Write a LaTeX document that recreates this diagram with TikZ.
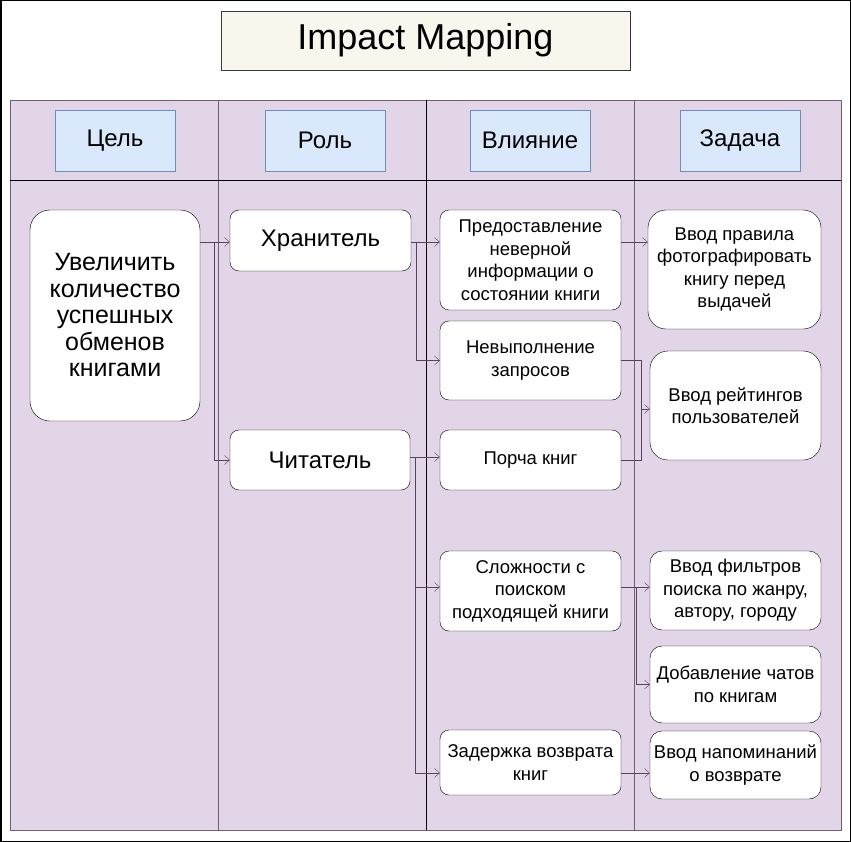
\documentclass[tikz,border=0pt]{standalone}
\usepackage{fontspec}
\setmainfont{Liberation Sans}
\usetikzlibrary{arrows.meta}
\definecolor{MapLane}{HTML}{E1D5E7}
\definecolor{MapLaneLine}{RGB}{112,96,118}
\definecolor{MapHeadBg}{HTML}{DAE8FC}
\definecolor{MapHeadLine}{HTML}{6C8EBF}
\definecolor{MapTitleBg}{HTML}{F9F7ED}
\definecolor{MapTitleLine}{RGB}{54,57,61}
\definecolor{MapLink}{RGB}{88,66,98}

\begin{document}
\begin{tikzpicture}[
x=1pt,y=-1pt,
title/.style={
draw=MapTitleLine,
fill=MapTitleBg,
minimum width=409pt,
minimum height=59pt,
font=\fontsize{36}{40}\selectfont
},
head/.style={
draw=MapHeadLine,
fill=MapHeadBg,
minimum width=120pt,
minimum height=61pt,
font=\fontsize{24}{28}\selectfont
},
card/.style={
draw=black,
fill=white,
rounded corners=9pt,
align=center,
inner sep=0pt,
font=\fontsize{18.5}{22.5}\selectfont
},
bigcard/.style={
card,
font=\fontsize{24}{28}\selectfont
},
link/.style={
draw=MapLink,
-{Straight Barb[length=5pt,width=9pt]}
}
]

\useasboundingbox (0,0) rectangle (851,842);
\draw[line width=1.5pt] (0.75,0.75) rectangle (850.25,841.25);

\fill[MapLane] (10,100) rectangle (841,830);
\draw[MapLaneLine] (10,100) rectangle (841,830);
\draw[MapLaneLine] (218,100) -- (218,830);
\draw (426,100) -- (426,830);
\draw[MapLaneLine] (634,100) -- (634,830);
\draw (10,180) -- (841,180);

\node[title] (title) at (425.5,40.5) {Impact Mapping};

\node[head] (hgoal) at (115,140.5) {Цель};
\node[head] (hrole) at (325,140.5) {Роль};
\node[head] (himpact) at (530,140.5) {Влияние};
\node[head] (htask) at (740,140.5) {Задача};

\node[bigcard,rounded corners=20pt,minimum width=170pt,minimum height=211pt,
font=\fontsize{25}{26.5}\selectfont] (goal) at (115,315.5)
{Увеличить\\количество\\успешных\\обменов\\книгами};

\node[bigcard,minimum width=181pt,minimum height=61pt] (keeper) at (320.5,240.5) {Хранитель};
\node[bigcard,minimum width=180pt,minimum height=60pt] (reader) at (320,460) {Читатель};

\node[card,minimum width=181pt,minimum height=100pt] (imp1) at (530.5,260)
{Предоставление\\неверной\\информации о\\состоянии книги};
\node[card,minimum width=181pt,minimum height=79pt] (imp2) at (530.5,360.5)
{Невыполнение\\запросов};
\node[card,minimum width=181pt,minimum height=60pt] (imp3) at (530.5,460) {Порча книг};
\node[card,minimum width=181pt,minimum height=80pt] (imp4) at (530.5,591)
{Сложности с\\поиском\\подходящей книги};
\node[card,minimum width=181pt,minimum height=65pt] (imp5) at (530.5,762.5)
{Задержка возврата\\книг};

\node[card,rounded corners=18pt,minimum width=173pt,minimum height=119pt] (task1) at (734.5,269.5)
{Ввод правила\\фотографировать\\книгу перед\\выдачей};
\node[card,rounded corners=18pt,minimum width=171pt,minimum height=109pt] (task2) at (735.5,405.5)
{Ввод рейтингов\\пользователей};
\node[card,rounded corners=12pt,minimum width=171pt,minimum height=79pt] (task3) at (735.5,590.5)
{Ввод фильтров\\поиска по жанру,\\автору, городу};
\node[card,rounded corners=12pt,minimum width=171pt,minimum height=77pt] (task4) at (735.5,684.5)
{Добавление чатов\\по книгам};
\node[card,rounded corners=12pt,minimum width=171pt,minimum height=68pt] (task5) at (735.5,765)
{Ввод напоминаний\\о возврате};

\coordinate (gbus) at (214,242);
\coordinate (kbus) at (416,242);
\coordinate (rbus) at (415,457);
\coordinate (dbus) at (641,409);
\coordinate (sbus) at (636,587);
\coordinate (late) at (636,773);

\draw[link] (goal.east |- gbus) -- (keeper.west |- gbus);
\draw[link] (gbus) |- (reader.west);
\draw[link] (keeper.east |- kbus) -- (imp1.west |- kbus);
\draw[link] (kbus) |- (imp2.west);
\draw[link] (imp1.east |- kbus) -- (task1.west |- kbus);
\draw[link] (imp2.east) -| (dbus) -- (task2.west |- dbus);
\draw[MapLink] (imp3.east) -| (dbus);
\draw[link] (reader.east |- rbus) -- (imp3.west |- rbus);
\draw[link] (rbus) |- (imp4.west |- sbus);
\draw[link] (rbus) |- (imp5.west |- late);
\draw[link] (imp4.east |- sbus) -- (task3.west |- sbus);
\draw[link] (sbus) |- (task4.west);
\draw[link] (imp5.east |- late) -- (task5.west |- late);

\end{tikzpicture}
\end{document}
